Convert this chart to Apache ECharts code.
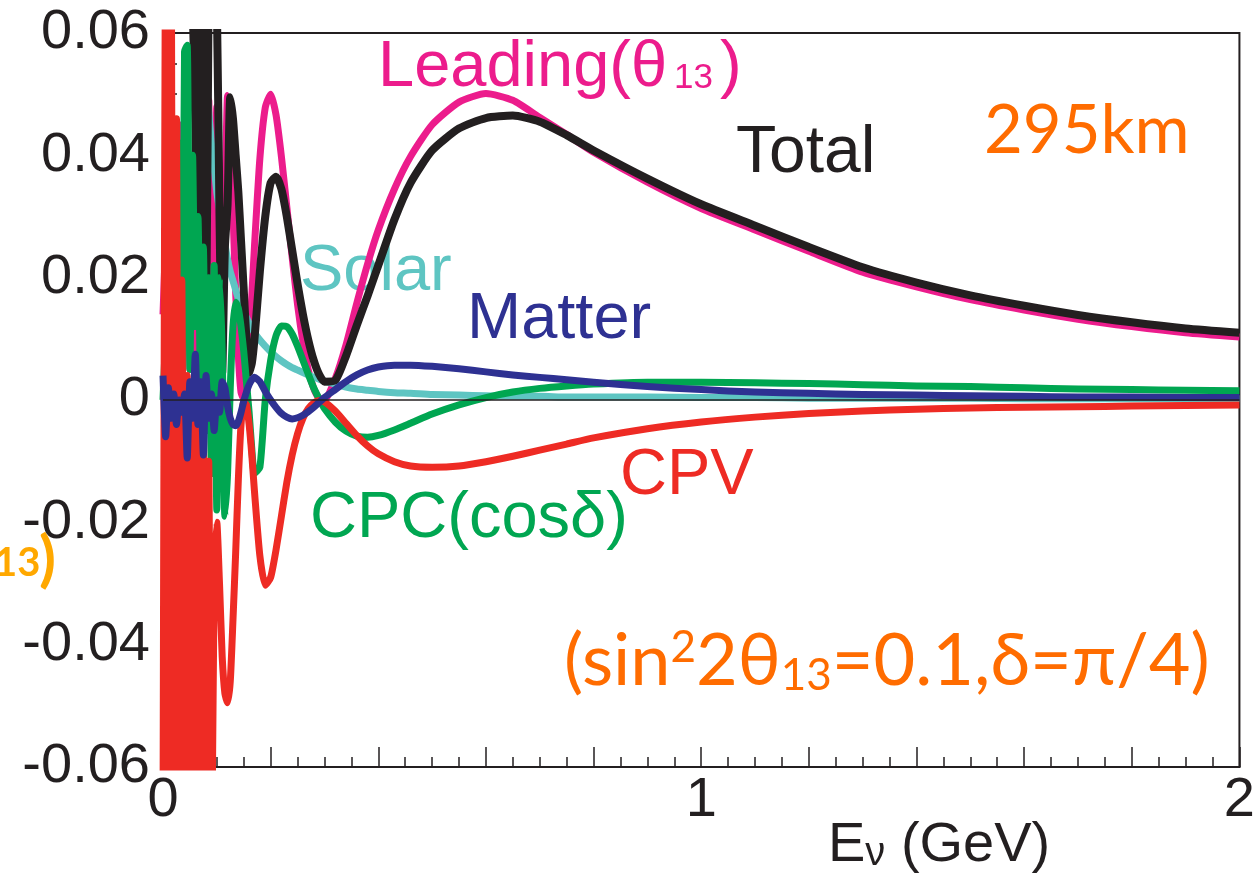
<!DOCTYPE html>
<html>
<head>
<meta charset="utf-8">
<script src="https://cdn.jsdelivr.net/npm/echarts@6/dist/echarts.min.js"></script>
<style>
  html, body { margin: 0; padding: 0; background: #fff; }
  #chart { width: 1258px; height: 892px; }
</style>
</head>
<body>
<div id="chart"></div>
<script>
// neutrino energy (GeV)
const energy = [
  0, 0.005, 0.01, 0.015, 0.02, 0.025, 0.03, 0.035, 0.04, 0.045, 0.05, 0.055,
  0.06, 0.065, 0.07, 0.075, 0.08, 0.085, 0.09, 0.095, 0.1, 0.105, 0.11, 0.115,
  0.12, 0.125, 0.13, 0.135, 0.14, 0.145, 0.15, 0.155, 0.16, 0.165, 0.17,
  0.18, 0.19, 0.2, 0.21, 0.22, 0.23, 0.24, 0.25, 0.26, 0.27, 0.28, 0.29, 0.3,
  0.32, 0.34, 0.36, 0.38, 0.4, 0.43, 0.46, 0.5, 0.55, 0.6, 0.65, 0.7, 0.75,
  0.8, 0.9, 1.0, 1.1, 1.2, 1.3, 1.4, 1.5, 1.6, 1.7, 1.8, 1.9, 2.0
];

const leading = [
  0.014, 0.027, 0.048, 0.003, 0.035, 0.010, 0.045, 0.002, 0.030, 0.046, 0.005, 0.040,
  0.018, 0.000, 0.045, 0.012, 0.030, 0.049, 0.008, 0.020, 0.048, 0.033, 0.008, 0.030,
  0.0498, 0.0431, 0.0308, 0.0176, 0.0072, 0.0012, 0.0002, 0.0033, 0.0093, 0.0170, 0.0252,
  0.0395, 0.0478, 0.0500, 0.0466, 0.0398, 0.0316, 0.0233, 0.0156, 0.0095, 0.0049, 0.0019, 0.0003, 0.0000,
  0.0035, 0.0090, 0.0158, 0.0222, 0.0278, 0.0345, 0.0398, 0.0450, 0.0487, 0.0501, 0.0490, 0.0462, 0.0434,
  0.0405, 0.0356, 0.0313, 0.0278, 0.0243, 0.0209, 0.0185, 0.0164, 0.0147, 0.0132, 0.0120, 0.0110, 0.0103
];

const total = [
  null, null, null, null, null, null, null, null, null, 0.085, 0.070, 0.065,
  0.045, 0.020, 0.075, 0.030, 0.0103, 0.070, 0.085, 0.070, 0.065, 0.030, 0.0044, 0.025,
  0.032, 0.0495, 0.046, 0.040, 0.034, 0.026, 0.018, 0.010, 0.0045, 0.006, 0.010,
  0.021, 0.030, 0.0355, 0.0365, 0.0345, 0.0300, 0.0245, 0.0190, 0.0140, 0.0098, 0.0065, 0.0042, 0.0030,
  0.0032, 0.0072, 0.0122, 0.0170, 0.0220, 0.0295, 0.0355, 0.0408, 0.0444, 0.0461, 0.0465, 0.0455, 0.0433,
  0.0408, 0.0362, 0.0320, 0.0285, 0.0250, 0.0217, 0.0192, 0.0171, 0.0154, 0.0139, 0.0127, 0.0117, 0.0110
];

const solar = [
  null, null, null, null, null, null, null, null, null, null, null, null,
  null, null, 0.066, 0.058, 0.052, 0.047, 0.042, 0.038, 0.034, 0.031, 0.028, 0.0255,
  0.023, 0.021, 0.0195, 0.018, 0.0165, 0.0155, 0.0145, 0.0135, 0.0125, 0.0117, 0.0110,
  0.0098, 0.0088, 0.0079, 0.0071, 0.0064, 0.0058, 0.0053, 0.0049, 0.0045, 0.0041, 0.0037, 0.0034, 0.0031,
  0.0026, 0.0021, 0.0018, 0.0016, 0.0014, 0.0012, 0.0011, 0.0009, 0.0008, 0.0007, 0.0006, 0.0006, 0.0005,
  0.0005, 0.0005, 0.0004, 0.0004, 0.0003, 0.0003, 0.0003, 0.0003, 0.0002, 0.0002, 0.0002, 0.0002, 0.0002
];

const matter = [
  0.004, -0.006, 0.002, -0.003, 0.001, -0.004, 0.000, -0.002, 0.001, -0.0095, 0.003, -0.003,
  0.0075, -0.004, 0.003, -0.009, 0.004, -0.003, 0.001, -0.005, 0.000, -0.002, 0.003, 0.002,
  -0.001, -0.003, -0.004, -0.0042, -0.0035, -0.002, -0.0002, 0.0013, 0.0025, 0.0033, 0.0037,
  0.0030, 0.0014, 0.0000, -0.0012, -0.0022, -0.0028, -0.0031, -0.0029, -0.0025, -0.0019, -0.0012, -0.0004, 0.0004,
  0.0017, 0.0030, 0.0041, 0.0049, 0.0054, 0.0057, 0.0057, 0.0055, 0.0051, 0.0046, 0.0041, 0.0037, 0.0033,
  0.0029, 0.0022, 0.0017, 0.0013, 0.0011, 0.0009, 0.0008, 0.0007, 0.0006, 0.0005, 0.0005, 0.0004, 0.0004
];

const cpc = [
  0.000, 0.010, -0.020, 0.030, -0.030, 0.035, 0.042, -0.005, 0.057, 0.058, 0.005, 0.040,
  0.012, 0.030, 0.000, 0.025, -0.005, 0.020, -0.012, 0.022, -0.018, 0.020, 0.008, -0.019,
  -0.012, 0.002, 0.012, 0.016, 0.015, 0.012, 0.008, 0.003, -0.002, -0.008, -0.012,
  -0.011, 0.000, 0.0065, 0.0105, 0.0121, 0.0120, 0.0108, 0.0088, 0.0065, 0.0042, 0.0020, 0.0002, -0.0014,
  -0.0036, -0.0051, -0.0059, -0.0061, -0.0058, -0.0049, -0.0038, -0.0023, -0.0008, 0.0004, 0.0013, 0.0019, 0.0023,
  0.0026, 0.0029, 0.0029, 0.0028, 0.0027, 0.0025, 0.0023, 0.0022, 0.0020, 0.0018, 0.0017, 0.0016, 0.0015
];

const cpv = [
  -0.07, 0.08, -0.08, 0.08, -0.08, 0.046, -0.08, 0.0196, -0.08, 0.004, -0.08, 0.002,
  -0.08, 0.003, -0.08, -0.005, -0.08, -0.010, -0.08, -0.030, -0.020, -0.030, -0.042, -0.048,
  -0.0495, -0.046, -0.036, -0.025, -0.013, -0.004, -0.0003, -0.0008, -0.004, -0.009, -0.015,
  -0.0255, -0.0303, -0.0290, -0.0245, -0.0190, -0.0135, -0.0090, -0.0055, -0.0030, -0.0014, -0.0005, -0.0001, -0.0003,
  -0.0018, -0.0038, -0.0058, -0.0075, -0.0088, -0.0101, -0.0108, -0.0110, -0.0108, -0.0101, -0.0092, -0.0082, -0.0072,
  -0.0062, -0.0047, -0.0036, -0.0028, -0.0022, -0.0018, -0.0015, -0.0013, -0.0012, -0.0011, -0.0010, -0.0009, -0.0008
];

const xLabels = ['0', '1', '2'];
const ink = '#231f20';
const sans = 'Liberation Sans, Arial, sans-serif';
const gill = 'Lato, sans-serif';

function pairs(values) {
  const out = [];
  values.forEach((v, i) => {
    if (v !== null) out.push([energy[i], v]);
  });
  return out;
}

function curve(name, values, color, width) {
  return {
    name: name,
    type: 'line',
    data: pairs(values),
    showSymbol: false,
    symbol: 'none',
    smooth: 0.2,
    clip: true,
    lineStyle: { color: color, width: width, join: 'round' },
    emphasis: { disabled: true },
  };
}

function label(text, x, y, color, size, family, weight) {
  return {
    type: 'text',
    x: x,
    y: y,
    silent: true,
    style: {
      text: text,
      fill: color,
      fontSize: size,
      fontFamily: family || sans,
      fontWeight: weight || 'normal',
      verticalAlign: 'middle',
    },
  };
}

const chart = echarts.init(document.getElementById('chart'));

const series = [
  curve('Leading', leading, '#ec1c8c', 7),
  curve('Solar', solar, '#5ec5c2', 7),
  curve('Total', total, ink, 8),
  curve('CPC', cpc, '#00a651', 7),
  curve('CPV', cpv, '#ee2b24', 7),
  curve('Matter', matter, '#2e3192', 7),
];
series[0].markLine = {
  silent: true,
  symbol: 'none',
  label: { show: false },
  lineStyle: { color: ink, width: 1.5, type: 'solid' },
  data: [{ yAxis: 0 }],
};

chart.setOption({
  animation: false,
  backgroundColor: '#fff',
  grid: {
    left: 163, right: 15, top: 33, bottom: 125,
    show: true, borderColor: ink, borderWidth: 2,
  },
  xAxis: {
    type: 'value',
    min: 0, max: 2, interval: 0.2,
    axisLine: { onZero: false, lineStyle: { color: ink, width: 2 } },
    axisTick: { inside: true, length: 20, lineStyle: { color: ink, width: 1.5 } },
    minorTick: { show: true, splitNumber: 4, length: 10, lineStyle: { color: ink, width: 1.5 } },
    splitLine: { show: false },
    axisLabel: {
      color: ink, fontSize: 56, margin: 6, fontFamily: sans,
      formatter: (v) => {
        const k = Math.round(v);
        return Math.abs(v - k) < 1e-6 ? xLabels[k] : '';
      },
    },
  },
  yAxis: {
    type: 'value',
    min: -0.06, max: 0.06, interval: 0.02,
    axisLine: { onZero: false, lineStyle: { color: ink, width: 2 } },
    axisTick: { inside: true, length: 20, lineStyle: { color: ink, width: 1.5 } },
    minorTick: { show: true, splitNumber: 4, length: 14, lineStyle: { color: ink, width: 1.5 } },
    splitLine: { show: false },
    axisLabel: {
      color: ink, fontSize: 56, margin: 13, fontFamily: sans,
      formatter: (v) => (Math.abs(v) < 1e-9 ? '0' : v.toFixed(2)),
    },
  },
  series: series,
  graphic: [
    label('Leading(θ', 378, 68, '#ec1c8c', 65),
    label('13', 674, 78, '#ec1c8c', 35),
    label(')', 720, 68, '#ec1c8c', 65),
    label('Total', 736, 154, ink, 66),
    label('295km', 984, 131, '#ff6c00', 67, gill),
    label('Solar', 300, 272, '#5ec5c2', 65),
    label('Matter', 467, 320, '#2e3192', 65),
    label('CPV', 620, 476, '#ee2b24', 65),
    label('CPC(cosδ)', 310, 519, '#00a651', 65),
    {
      type: 'text',
      x: 564, y: 662,
      silent: true,
      style: {
        text: '{a|(sin}{sup|2}{a|2θ}{sub|13}{a|=0.1,δ=π/4)}',
        fill: '#ff6c00',
        verticalAlign: 'middle',
        rich: {
          a: { fontSize: 72, fontFamily: gill, fill: '#ff6c00' },
          sup: { fontSize: 44, fontFamily: gill, fill: '#ff6c00', verticalAlign: 'top' },
          sub: { fontSize: 44, fontFamily: gill, fill: '#ff6c00', verticalAlign: 'bottom' },
        },
      },
    },
    label('13', -6, 563, '#ffa800', 40, gill, 'bold'),
    label(')', 39, 560, '#ffa800', 62, gill, 'bold'),
    {
      type: 'text',
      x: 828, y: 846,
      silent: true,
      style: {
        text: '{a|E}{s|ν}{a| (GeV)}',
        fill: ink,
        verticalAlign: 'middle',
        rich: {
          a: { fontSize: 56, fontFamily: sans, fill: ink },
          s: { fontSize: 40, fontFamily: sans, fill: ink, verticalAlign: 'bottom' },
        },
      },
    },
  ],
});
</script>
</body>
</html>
